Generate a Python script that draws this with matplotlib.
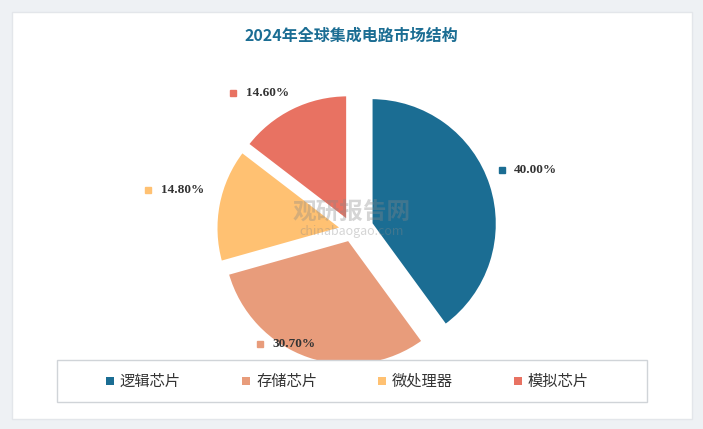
import numpy as np
import matplotlib.pyplot as plt
from matplotlib import font_manager
from matplotlib.patches import Rectangle

categories = ['逻辑芯片', '存储芯片', '微处理器', '模拟芯片']
shares = [40.00, 30.70, 14.80, 14.60]
colors = ['#1B6D93', '#E89C7B', '#FFC172', '#E87262']
title = '2024年全球集成电路市场结构'

# find a CJK font
names = sorted({f.name for f in font_manager.fontManager.ttflist if 'CJK' in f.name})
cjk = ([n for n in names if 'SC' in n] or names or ['DejaVu Sans'])[0]
plt.rcParams['font.family'] = [cjk, 'DejaVu Sans']

fig = plt.figure(figsize=(7.03, 4.29), dpi=100)
fig.patch.set_facecolor('#EEF1F4')
fig.add_artist(Rectangle((12/703, 10/429), 680/703, 407/429, transform=fig.transFigure,
                         facecolor='white', edgecolor='#E3E6EA', lw=1, zorder=-5))
fig.text(0.5, 1 - 36/429, title, ha='center', va='center', fontsize=11.5,
         fontweight='bold', color='#1B6D93')

# pie axes
r_px = 126
cx, cy = 352, 230
ax = fig.add_axes([(cx - 1.8*r_px)/703, 1 - (cy + 1.8*r_px)/429, 3.6*r_px/703, 3.6*r_px/429])
ax.patch.set_alpha(0)
wedges, _ = ax.pie(shares, colors=colors, startangle=90, counterclock=False,
                   explode=[0.16, 0.08, 0.08, 0.08], radius=1.0,
                   wedgeprops=dict(edgecolor='white', linewidth=2))
ax.axis('off')
ax.set_xlim(-1.8, 1.8); ax.set_ylim(-1.8, 1.8)

# label placement (angle in degrees, radius in pie units)
label_ang = [22, -129, 169, 131]
label_r = [1.28, 1.16, 1.65, 1.44]
for v, c, a, lr in zip(shares, colors, label_ang, label_r):
    ang = np.deg2rad(a)
    x, y = lr*np.cos(ang), lr*np.sin(ang)
    ax.plot(x, y, marker='s', ms=4, color=c, clip_on=False)
    ax.text(x + 0.1, y, f'{v:.2f}%', ha='left', va='center', fontsize=9.5,
            family='Liberation Serif', fontweight='bold', color='#333333')

# watermark
fig.text(0.5, 1 - 212/429, '观研报告网', ha='center', va='center', fontsize=17,
         fontweight='bold', color='#888888', alpha=0.35)
fig.text(0.5, 1 - 232/429, 'chinabaogao.com', ha='center', va='center', fontsize=9,
         color='#888888', alpha=0.35)

# legend box
fig.add_artist(Rectangle((57/703, 1 - 402/429), 590/703, 42/429, transform=fig.transFigure,
                         facecolor='white', edgecolor='#D0D4D8', lw=1))
leg_x = [110, 246, 382, 518]
for lx, name, c in zip(leg_x, categories, colors):
    fig.add_artist(Rectangle(((lx - 4)/703, 1 - 385/429), 8/703, 8/429,
                             transform=fig.transFigure, facecolor=c, edgecolor='none'))
    fig.text((lx + 10)/703, 1 - 381/429, name, ha='left', va='center', fontsize=11,
             color='#333333')

fig.savefig('out.png', dpi=100, facecolor=fig.get_facecolor())
